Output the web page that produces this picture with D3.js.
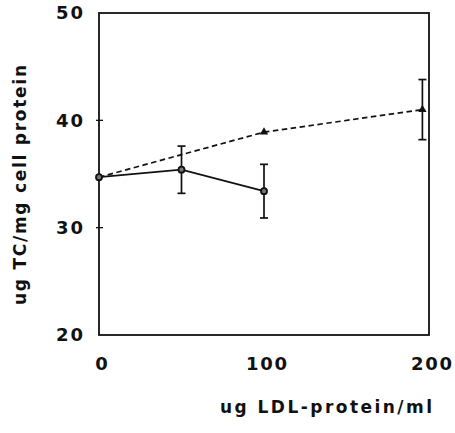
<!DOCTYPE html>
<html>
<head>
<meta charset="utf-8">
<script src="https://cdn.jsdelivr.net/npm/d3@7"></script>
<style>
  html, body { margin: 0; padding: 0; background: #fff; }
  svg { display: block; }
  .tick text { font-family: "DejaVu Sans", sans-serif; font-weight: bold; font-size: 18px; fill: #111; }
  .lbl { font-family: "DejaVu Sans", sans-serif; font-weight: bold; font-size: 17px; fill: #111; }
</style>
</head>
<body>
<svg id="chart" width="455" height="433"></svg>
<script>
// LDL-protein dose (ug/ml) on x, total cholesterol (ug TC/mg cell protein) on y
const doseSolid = [0, 50, 100];
const tcSolid = [34.7, 35.4, 33.4];
const errSolid = [0, 2.2, 2.5];

const doseDashed = [0, 100, 196];
const tcDashed = [34.7, 38.9, 41.0];
const errDashed = [0, 0, 2.8];

const xTicks = [0, 100, 200];
const yTicks = [20, 30, 40, 50];

const svg = d3.select("#chart");
const x = d3.scaleLinear().domain([0, 200]).range([99, 429]);
const y = d3.scaleLinear().domain([20, 50]).range([335, 13]);

const ink = "#111";

// frame
svg.append("rect")
  .attr("x", x(0)).attr("y", y(50))
  .attr("width", x(200) - x(0)).attr("height", y(20) - y(50))
  .attr("fill", "none").attr("stroke", ink).attr("stroke-width", 1.8);

// y axis labels
const yAxis = svg.append("g")
  .attr("transform", `translate(${x(0)},0)`)
  .call(d3.axisLeft(y).tickValues(yTicks).tickSize(0).tickPadding(16));
yAxis.select(".domain").remove();
yAxis.selectAll(".tick text").attr("textLength", 27).attr("lengthAdjust", "spacing");

// small crossing tick marks on the left edge
svg.selectAll(".ytick").data([30, 40]).enter().append("line")
  .attr("x1", x(0) - 3).attr("x2", x(0) + 4)
  .attr("y1", d => y(d)).attr("y2", d => y(d))
  .attr("stroke", ink).attr("stroke-width", 1.3);

// x axis labels
const xAxis = svg.append("g")
  .attr("transform", `translate(0,${y(20)})`)
  .call(d3.axisBottom(x).tickValues(xTicks).tickFormat(d3.format("d")).tickSize(0).tickPadding(22));
xAxis.select(".domain").remove();
xAxis.selectAll(".tick text").filter(d => d >= 100)
  .attr("textLength", 41).attr("lengthAdjust", "spacing");
xAxis.selectAll(".tick text").attr("dx", 2);

// axis titles
svg.append("text").attr("class", "lbl")
  .attr("x", 326).attr("y", 413)
  .attr("text-anchor", "middle")
  .attr("textLength", 212).attr("lengthAdjust", "spacing")
  .text("ug LDL-protein/ml");

svg.append("text").attr("class", "lbl")
  .attr("transform", "translate(26,185) rotate(-90)")
  .attr("text-anchor", "middle")
  .attr("textLength", 240).attr("lengthAdjust", "spacing")
  .text("ug TC/mg cell protein");

const solid = doseSolid.map((d, i) => ({ x: d, y: tcSolid[i], e: errSolid[i] }));
const dashed = doseDashed.map((d, i) => ({ x: d, y: tcDashed[i], e: errDashed[i] }));

const line = d3.line().x(d => x(d.x)).y(d => y(d.y));

// dashed series
svg.append("path").datum(dashed)
  .attr("d", line).attr("fill", "none")
  .attr("stroke", ink).attr("stroke-width", 1.7)
  .attr("stroke-dasharray", "5.5,3.5");

// solid series
svg.append("path").datum(solid)
  .attr("d", line).attr("fill", "none")
  .attr("stroke", ink).attr("stroke-width", 1.8);

// error bars
function errorBars(data) {
  const g = svg.append("g").attr("stroke", ink).attr("stroke-width", 1.7);
  data.filter(d => d.e > 0).forEach(d => {
    g.append("line").attr("x1", x(d.x)).attr("x2", x(d.x))
      .attr("y1", y(d.y + d.e)).attr("y2", y(d.y - d.e));
    [d.y + d.e, d.y - d.e].forEach(v => {
      g.append("line").attr("x1", x(d.x) - 4).attr("x2", x(d.x) + 4)
        .attr("y1", y(v)).attr("y2", y(v));
    });
  });
}
errorBars(solid);
errorBars(dashed);

// markers
svg.selectAll(".tri").data(dashed.slice(1)).enter().append("path")
  .attr("d", d3.symbol().type(d3.symbolTriangle).size(30))
  .attr("transform", d => `translate(${x(d.x)},${y(d.y)})`)
  .attr("fill", ink);

svg.selectAll(".dot").data(solid).enter().append("circle")
  .attr("cx", d => x(d.x)).attr("cy", d => y(d.y)).attr("r", 3)
  .attr("fill", "#777").attr("stroke", ink).attr("stroke-width", 1.8);
</script>
</body>
</html>
